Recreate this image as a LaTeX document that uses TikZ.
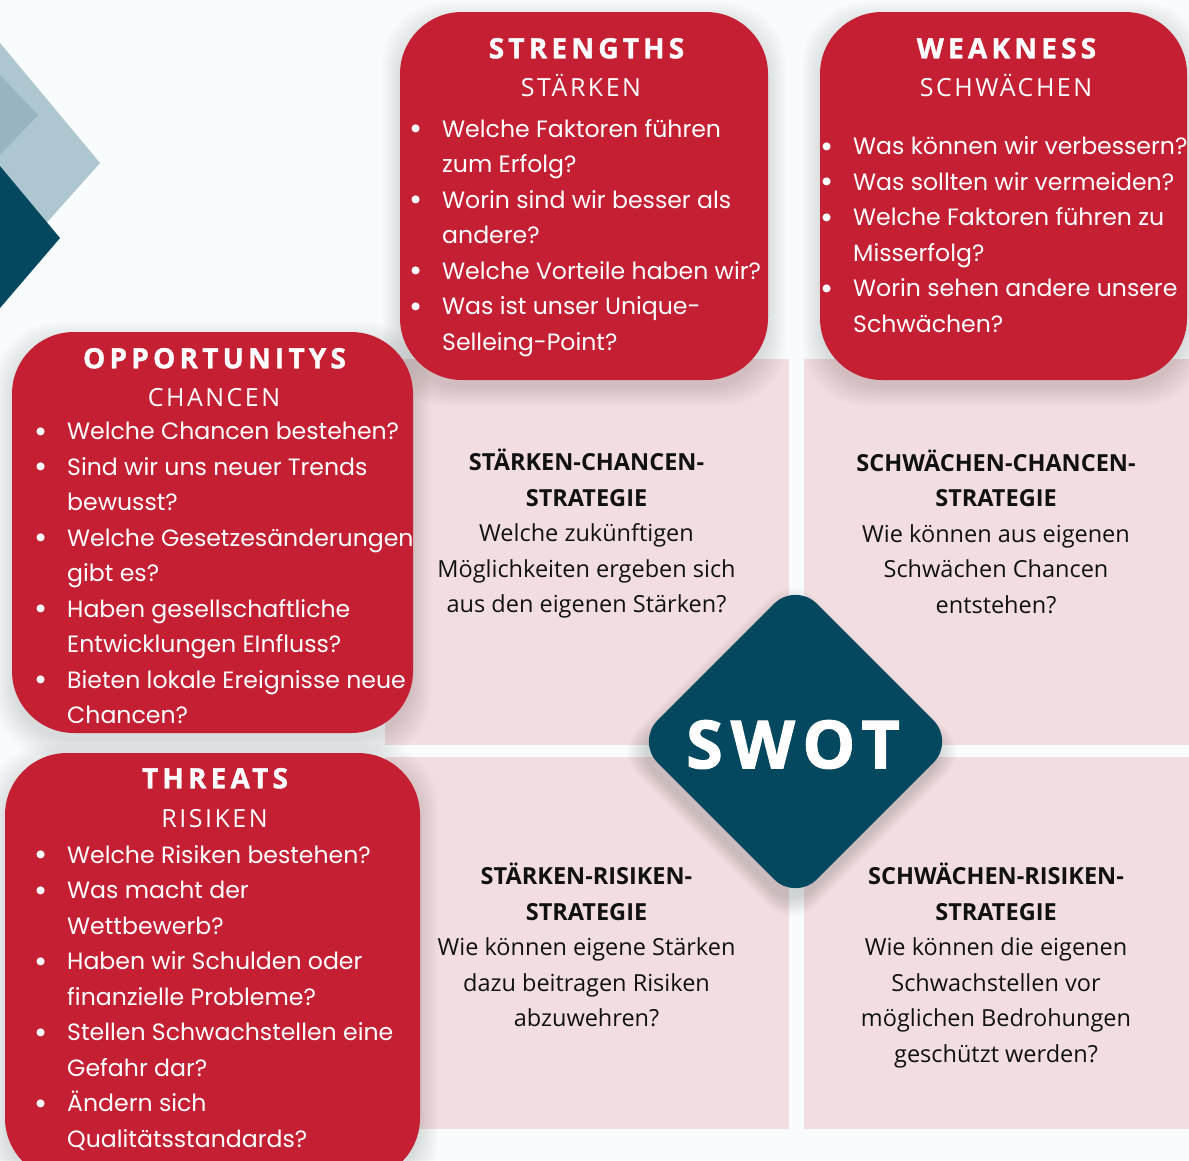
\documentclass[tikz,border=0pt]{standalone}
\usepackage{fontspec}
\newfontfamily\pop{Poppins}
\newfontfamily\osans{Open Sans}
\newfontfamily\osansH[LetterSpace=15, BoldFeatures={FakeBold=1.3}]{Open Sans}
\newfontfamily\osansS[LetterSpace=10]{Open Sans}
\newfontfamily\osansW[LetterSpace=12, BoldFeatures={FakeBold=1.6}]{Open Sans}
\definecolor{bg}{HTML}{F8FCFC}
\definecolor{cardred}{HTML}{C51F33}
\definecolor{panel}{HTML}{F2DEE0}
\definecolor{tealdark}{HTML}{03485F}
\definecolor{lblue}{HTML}{AEC6CF}
\definecolor{mblue}{HTML}{97B4C0}
\definecolor{ink}{HTML}{111111}
\newcommand\itm{\llap{\raisebox{-2.5pt}{\scalebox{1.35}{\textbullet}}\hspace{19.5pt}}}
\newcommand\softshadow[5]{%
  \foreach \k in {0,...,7}{%
    \fill[black, opacity=0.016, rounded corners=#5]
      ({#1-\k*2.5},{#2-\k*2.5+8}) rectangle ({#3+\k*2.5},{#4+\k*2.5+8});}}
\tikzset{
  card/.style={rectangle, fill=cardred, rounded corners=62pt, inner sep=0pt, draw=none},
  panelbox/.style={rectangle, fill=panel, inner sep=0pt, draw=none},
  head/.style={text=white, font=\osansH\bfseries\fontsize{28}{30}\selectfont, inner sep=0pt, anchor=base},
  subhead/.style={text=white, font=\osansS\fontsize{25}{28}\selectfont, inner sep=0pt, anchor=base},
  blist/.style={text=white, font=\pop\fontsize{23.6}{35.5}\selectfont, align=left, inner sep=0pt, anchor=base west},
  midtext/.style={text=ink, font=\osans\fontsize{23.5}{35.5}\selectfont, align=center, inner sep=0pt, anchor=base},
}
\begin{document}
\begin{tikzpicture}[x=1pt,y=-1pt]
\useasboundingbox (0,0) rectangle (1189,1160);
\fill[bg] (0,0) rectangle (1189,1160);
% decorative diamonds
\fill[lblue] (0,43) -- (100,163) -- (0,275) -- (-100,163) -- cycle;
\fill[mblue] (0,75) -- (38,115) -- (0,155) -- (-38,115) -- cycle;
\fill[tealdark] (0,166) -- (60,238) -- (0,308) -- (-60,238) -- cycle;
% panels
\node[panelbox, minimum width=404pt, minimum height=386pt] (pTL) at (587,552) {};
\node[panelbox, minimum width=385pt, minimum height=386pt] (pTR) at (996.5,552) {};
\node[panelbox, minimum width=404pt, minimum height=372pt] (pBL) at (587,943) {};
\node[panelbox, minimum width=385pt, minimum height=372pt] (pBR) at (996.5,943) {};
% shadows
\softshadow{400}{12}{768}{380}{62pt}
\softshadow{820}{12}{1187}{380}{62pt}
\softshadow{12}{332}{413}{733}{62pt}
\softshadow{5}{753}{420}{1180}{62pt}
% cards
\node[card, minimum width=368pt, minimum height=368pt] (S) at (584,196) {};
\node[card, minimum width=367pt, minimum height=368pt] (W) at (1003.5,196) {};
\node[card, minimum width=401pt, minimum height=401pt] (O) at (212.5,532.5) {};
\node[card, minimum width=415pt, minimum height=427pt] (T) at (212.5,966.5) {};
% card texts (anchor = baseline of last line)
\node[head] (Sh) at (586.5,58.3) {STRENGTHS};
\node[subhead] (Ss) at (581,96.7) {STÄRKEN};
\node[blist] (Sl) at (442,350.2) {\itm Welche Faktoren führen\\ zum Erfolg?\\ \itm Worin sind wir besser als\\ andere?\\ \itm Welche Vorteile haben wir?\\ \itm Was ist unser Unique-\\ Selleing-Point?};
\node[head] (Wh) at (1006.5,58.3) {WEAKNESS};
\node[subhead] (Ws) at (1006,96.7) {SCHWÄCHEN};
\node[blist] (Wl) at (853,332.2) {\itm Was können wir verbessern?\\ \itm Was sollten wir vermeiden?\\ \itm Welche Faktoren führen zu\\ Misserfolg?\\ \itm Worin sehen andere unsere\\ Schwächen?};
\node[head] (Oh) at (214.5,368.3) {OPPORTUNITYS};
\node[subhead] (Os) at (214,406) {CHANCEN};
\node[blist] (Ol) at (67,723.5) {\itm Welche Chancen bestehen?\\ \itm Sind wir uns neuer Trends\\ bewusst?\\ \itm Welche Gesetzesänderungen\\ gibt es?\\ \itm Haben gesellschaftliche\\ Entwicklungen EInfluss?\\ \itm Bieten lokale Ereignisse neue\\ Chancen?};
\node[head] (Th) at (215,788.3) {THREATS};
\node[subhead] (Ts) at (214.5,827.3) {RISIKEN};
\node[blist] (Tl) at (67,1147.3) {\itm Welche Risiken bestehen?\\ \itm Was macht der\\ Wettbewerb?\\ \itm Haben wir Schulden oder\\ finanzielle Probleme?\\ \itm Stellen Schwachstellen eine\\ Gefahr dar?\\ \itm Ändern sich\\ Qualitätsstandards?};
% middle texts
\node[midtext] (mTL) at (586.5,612.7) {\textbf{STÄRKEN-CHANCEN-}\\ \textbf{STRATEGIE}\\ Welche zukünftigen\\ Möglichkeiten ergeben sich\\ aus den eigenen Stärken?};
\node[midtext] (mTR) at (996,613) {\textbf{SCHWÄCHEN-CHANCEN-}\\ \textbf{STRATEGIE}\\ Wie können aus eigenen\\ Schwächen Chancen\\ entstehen?};
\node[midtext] (mBL) at (586.5,1026.7) {\textbf{STÄRKEN-RISIKEN-}\\ \textbf{STRATEGIE}\\ Wie können eigene Stärken\\ dazu beitragen Risiken\\ abzuwehren?};
\node[midtext] (mBR) at (996,1062.2) {\textbf{SCHWÄCHEN-RISIKEN-}\\ \textbf{STRATEGIE}\\ Wie können die eigenen\\ Schwachstellen vor\\ möglichen Bedrohungen\\ geschützt werden?};
% SWOT diamond
\foreach \k in {0,...,7}{%
  \node[rectangle, fill=black, opacity=0.02, rounded corners=30pt, minimum size={225pt+\k*3.5pt}, rotate=45, inner sep=0pt] (Dsh\k) at (792,752) {};}
\node[rectangle, fill=tealdark, rounded corners=30pt, minimum size=225pt, rotate=45, inner sep=0pt] (D) at (795.5,741.5) {};
\node[text=white, font=\osansW\bfseries\fontsize{66.5}{70}\selectfont, inner sep=0pt, anchor=base] (swot) at (793,768.3) {SWOT};
\end{tikzpicture}
\end{document}
